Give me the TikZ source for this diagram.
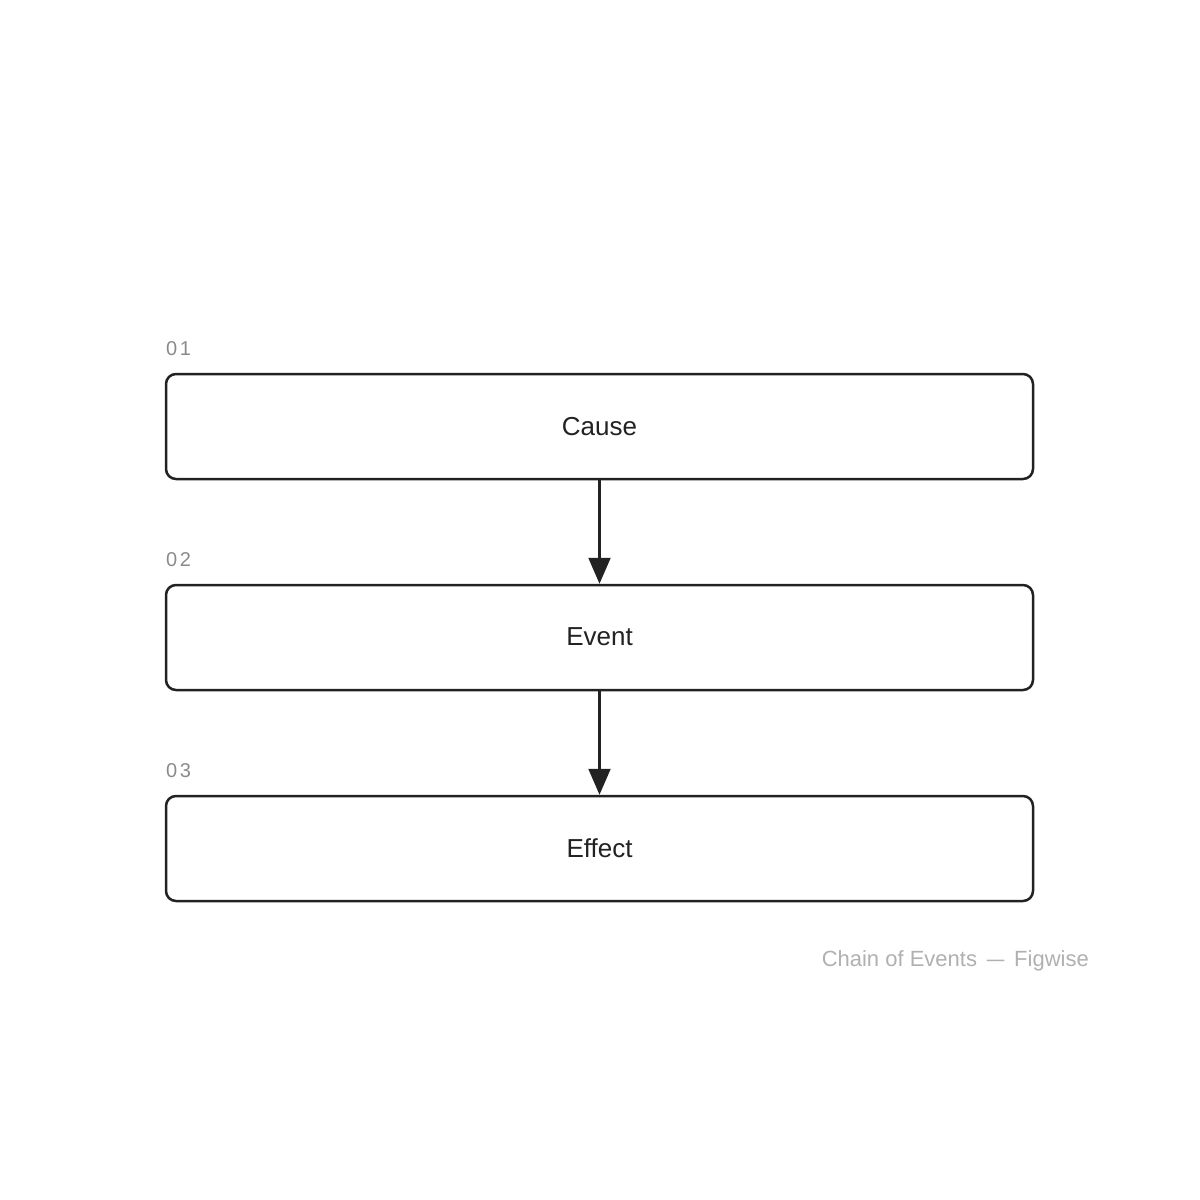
\documentclass[tikz,border=0pt]{standalone}
\usepackage{fontspec}
\setmainfont{Liberation Sans}
\usetikzlibrary{arrows.meta}
\definecolor{ink}{HTML}{222222}
\definecolor{numgray}{HTML}{8A8A8A}
\definecolor{footgray}{HTML}{B0B0B0}
\tikzset{
  stepbox/.style={draw=ink, line width=2.5pt, rounded corners=10pt, fill=white,
    minimum width=867pt, minimum height=105pt, inner sep=0pt, text=ink,
    font=\fontsize{26pt}{30pt}\selectfont},
  steplabel/.style={anchor=base west, inner sep=0pt, text=numgray,
    font=\fontsize{20pt}{24pt}\selectfont},
  flow/.style={draw=ink, line width=2.2pt, -{Triangle[length=26pt,width=22pt]}},
}
\begin{document}
\begin{tikzpicture}[x=1pt,y=-1pt]
\useasboundingbox (0,0) rectangle (1200,1200);
\node[stepbox] (cause) at (599.5,426.5) {\raisebox{1pt}{Cause}};
\node[stepbox] (event) at (599.5,637.5) {\raisebox{1pt}{Event}};
\node[stepbox] (effect) at (599.5,848.5) {\raisebox{1pt}{Effect}};
\node[steplabel] (l1) at (166,355) {0\kern2.5pt1};
\node[steplabel] (l2) at (166,566) {0\kern2.5pt2};
\node[steplabel] (l3) at (166,777) {0\kern2.5pt3};
\draw[flow] (cause.south) -- (event.north);
\draw[flow] (event.south) -- (effect.north);
\node[anchor=base east, inner sep=0pt, text=footgray, font=\fontsize{22pt}{26pt}\selectfont] (foot) at (1089,966) {Chain of Events \,\scalebox{0.8}[1]{—}\, Figwise};
\end{tikzpicture}
\end{document}
